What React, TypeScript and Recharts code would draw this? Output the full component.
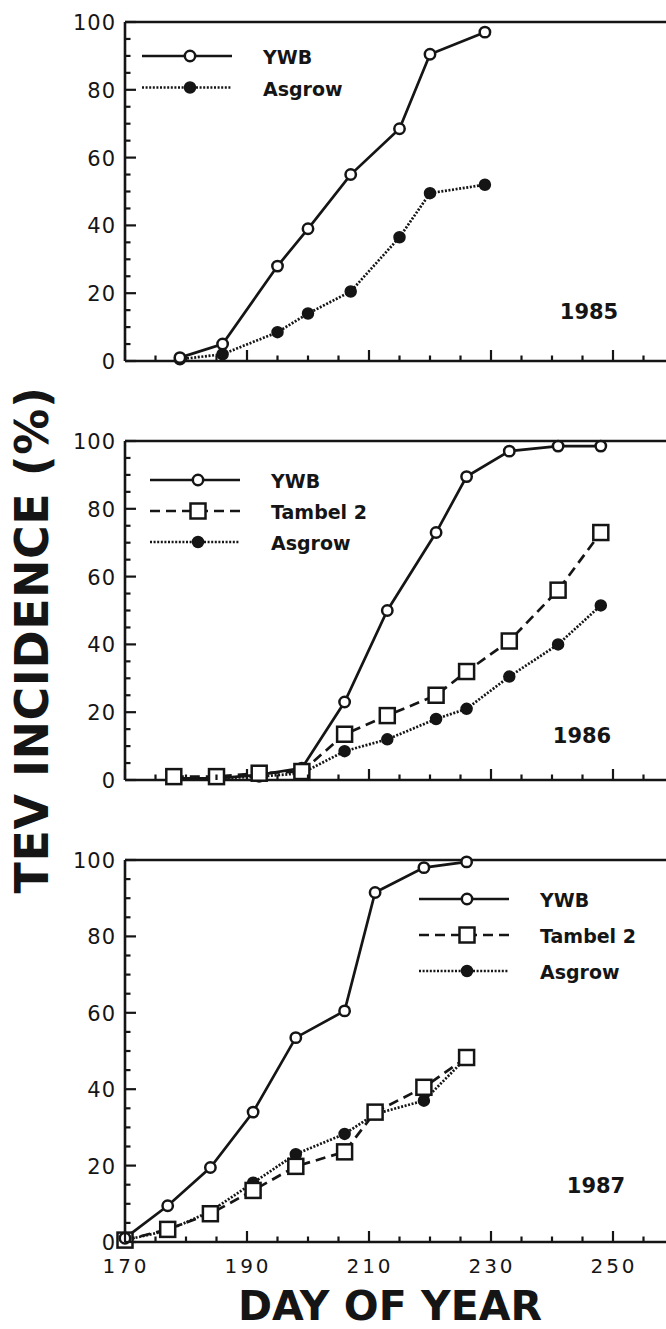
import { LineChart, Line, XAxis, YAxis, ReferenceLine, Legend } from 'recharts';

// axis ticks and labels
const xTicks = [170, 175, 180, 185, 190, 195, 200, 205, 210, 215, 220, 225, 230, 235, 240, 245, 250, 255];
const xLabels = [170, 190, 210, 230, 250];
const yTicks = [0, 5, 10, 15, 20, 25, 30, 35, 40, 45, 50, 55, 60, 65, 70, 75, 80, 85, 90, 95, 100];
const yLabels = [0, 20, 40, 60, 80, 100];

// 1985
const days1985 = [179, 186, 195, 200, 207, 215, 220, 229];
const ywb1985 = [1, 5, 28, 39, 55, 68.5, 90.5, 97];
const asgrow1985 = [0.5, 2, 8.5, 14, 20.5, 36.5, 49.5, 52];

// 1986
const days1986 = [178, 185, 192, 199, 206, 213, 221, 226, 233, 241, 248];
const ywb1986 = [0.5, 0.5, 1.5, 3.5, 23, 50, 73, 89.5, 97, 98.5, 98.5];
const tambel1986 = [1, 1, 2, 2.5, 13.5, 19, 25, 32, 41, 56, 73];
const asgrow1986 = [0.5, 0.5, 1, 2, 8.5, 12, 18, 21, 30.5, 40, 51.5];

// 1987
const days1987 = [170, 177, 184, 191, 198, 206, 211, 219, 226];
const ywb1987 = [1, 9.5, 19.5, 34, 53.5, 60.5, 91.5, 98, 99.5];
const tambel1987 = [0.5, 3.3, 7.4, 13.5, 19.8, 23.6, 34, 40.5, 48.3];
const asgrow1987 = [0.5, 3, 8, 15.5, 23, 28.3, 33.5, 37, 48.3];

const INK = '#151515';
const FONT = '"DejaVu Sans", Arial, sans-serif';

const table1985 = days1985.map((day, i) => ({ day, ywb: ywb1985[i], asgrow: asgrow1985[i] }));
const table1986 = days1986.map((day, i) => ({ day, ywb: ywb1986[i], tambel: tambel1986[i], asgrow: asgrow1986[i] }));
const table1987 = days1987.map((day, i) => ({ day, ywb: ywb1987[i], tambel: tambel1987[i], asgrow: asgrow1987[i] }));

const DASH = '10 6';
const DOTS = '2 1.6';

const Marker = ({ kind, cx, cy }: any) => {
  if (kind === 'square')
    return <rect x={cx - 7.5} y={cy - 7.5} width={15} height={15} fill="#fff" stroke={INK} strokeWidth={2.5} />;
  if (kind === 'filled') return <circle cx={cx} cy={cy} r={5.5} fill={INK} stroke={INK} strokeWidth={1.5} />;
  return <circle cx={cx} cy={cy} r={5.2} fill="#fff" stroke={INK} strokeWidth={2.5} />;
};

const XTick = ({ x, y, payload, showLabel }: any) => {
  const major = xLabels.includes(payload.value);
  return (
    <g>
      <line x1={x} x2={x} y1={y} y2={y - (major ? 11 : 5.5)} stroke={INK} strokeWidth={2.2} />
      {showLabel && major && (
        <text x={x + 1} y={y + 31} textAnchor="middle" fontFamily={FONT} fontSize={20} letterSpacing={3} fill={INK}>
          {payload.value}
        </text>
      )}
    </g>
  );
};

const YTick = ({ x, y, payload }: any) => {
  const major = yLabels.includes(payload.value);
  return (
    <g>
      <line x1={x} x2={x + (major ? 11 : 5.5)} y1={y} y2={y} stroke={INK} strokeWidth={2.2} />
      {major && (
        <text x={x - 9} y={y + 8} textAnchor="end" fontFamily={FONT} fontSize={21} letterSpacing={1} fill={INK}>
          {payload.value}
        </text>
      )}
    </g>
  );
};

const series: Record<string, { name: string; dash?: string; kind: string }> = {
  ywb: { name: 'YWB', kind: 'open' },
  tambel: { name: 'Tambel 2', dash: DASH, kind: 'square' },
  asgrow: { name: 'Asgrow', dash: DOTS, kind: 'filled' },
};

const Panel = ({ data, keys, top, plotH, showXLabels, legend, year }: any) => {
  const xAxisH = showXLabels ? 40 : 20;
  const height = 10 + plotH + xAxisH;
  const legendContent = () => (
    <svg width={674} height={height} style={{ overflow: 'visible' }}>
      {legend.order.map((k: string, i: number) => {
        const s = series[k];
        const cy = legend.y - top + i * legend.gap;
        return (
          <g key={k}>
            <line x1={legend.x} x2={legend.x + 90} y1={cy} y2={cy} stroke={INK} strokeWidth={2.6} strokeDasharray={s.dash} />
            <Marker kind={s.kind} cx={legend.x + 48} cy={cy} />
            <text x={legend.x + 121} y={cy + 8} fontFamily={FONT} fontWeight="bold" fontSize={19} fill={INK}>
              {s.name}
            </text>
          </g>
        );
      })}
      <text x={year.x} y={year.y - top} textAnchor="middle" fontFamily={FONT} fontWeight="bold" fontSize={21} fill={INK}>
        {year.label}
      </text>
    </svg>
  );
  return (
    <div style={{ position: 'absolute', left: 0, top }}>
      <LineChart width={674} height={height} data={data} margin={{ top: 10, right: 0, bottom: 0, left: 0 }}>
        <XAxis
          type="number"
          dataKey="day"
          domain={[170, 260]}
          ticks={xTicks}
          height={xAxisH}
          interval={0}
          tickSize={0}
          tickMargin={0}
          tickLine={false}
          axisLine={{ stroke: INK, strokeWidth: 2.6 }}
          tick={(p: any) => <XTick {...p} showLabel={showXLabels} />}
        />
        <YAxis
          type="number"
          domain={[0, 100]}
          ticks={yTicks}
          width={125}
          interval={0}
          tickSize={0}
          tickMargin={0}
          tickLine={false}
          axisLine={{ stroke: INK, strokeWidth: 2.6 }}
          tick={(p: any) => <YTick {...p} />}
        />
        <ReferenceLine y={100} stroke={INK} strokeWidth={2.4} />
        <Legend layout="vertical" align="center" verticalAlign="middle" content={legendContent}
          wrapperStyle={{ left: 0, top: 0, width: 674, height, pointerEvents: 'none' }} />
        {keys.map((k: string) => {
          const s = series[k];
          return (
            <Line
              key={k}
              dataKey={k}
              name={s.name}
              type="linear"
              stroke={INK}
              strokeWidth={2.7}
              strokeDasharray={s.dash}
              isAnimationActive={false}
              dot={(p: any) => <Marker key={`${k}-${p.index}`} kind={s.kind} cx={p.cx} cy={p.cy} />}
              activeDot={false}
            />
          );
        })}
      </LineChart>
    </div>
  );
};

const App = () => {
  return (
    <div style={{ position: 'absolute', left: 0, top: 0, width: 666, height: 1329, overflow: 'hidden', background: '#fff' }}>
      <Panel
        data={table1985}
        keys={['asgrow', 'ywb']}
        top={12}
        plotH={339}
        showXLabels={false}
        legend={{ order: ['ywb', 'asgrow'], x: 142, y: 56, gap: 31.5 }}
        year={{ label: '1985', x: 589, y: 319 }}
      />
      <Panel
        data={table1986}
        keys={['asgrow', 'ywb', 'tambel']}
        top={431}
        plotH={339}
        showXLabels={false}
        legend={{ order: ['ywb', 'tambel', 'asgrow'], x: 150, y: 480, gap: 31 }}
        year={{ label: '1986', x: 582, y: 743 }}
      />
      <Panel
        data={table1987}
        keys={['asgrow', 'tambel', 'ywb']}
        top={850}
        plotH={382}
        showXLabels={true}
        legend={{ order: ['ywb', 'tambel', 'asgrow'], x: 419, y: 899, gap: 36 }}
        year={{ label: '1987', x: 596, y: 1193 }}
      />
      <svg width={666} height={1329} style={{ position: 'absolute', left: 0, top: 0, pointerEvents: 'none' }}>
        <text
          transform="translate(48, 640) rotate(-90)"
          textAnchor="middle"
          fontFamily={FONT}
          fontWeight="bold"
          fontSize={46}
          letterSpacing={0.5}
          fill={INK}
        >
          TEV INCIDENCE (%)
        </text>
        <text x={390} y={1320} textAnchor="middle" fontFamily={FONT} fontWeight="bold" fontSize={41} fill={INK}>
          DAY OF YEAR
        </text>
      </svg>
    </div>
  );
};

export default App;
